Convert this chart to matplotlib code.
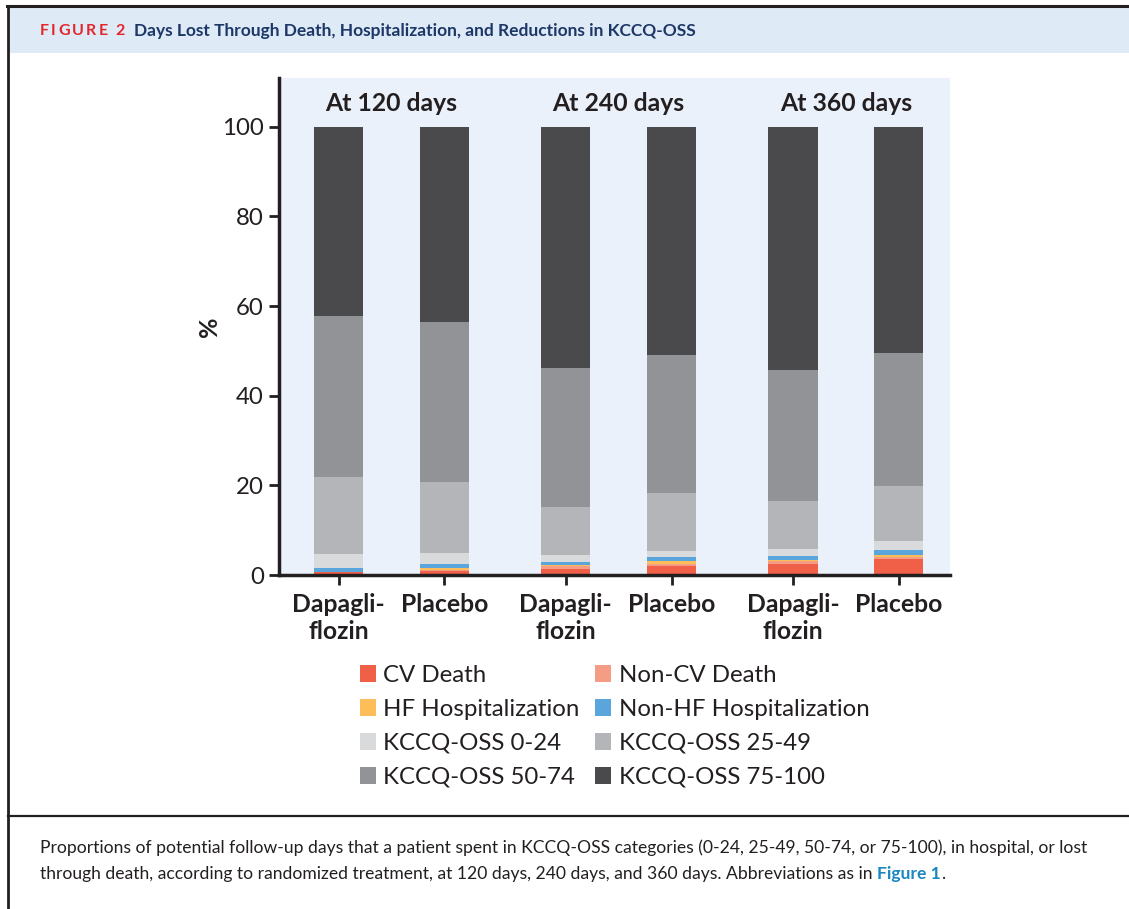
import matplotlib
matplotlib.use("Agg")
import matplotlib.pyplot as plt
from matplotlib.lines import Line2D
from matplotlib.patches import Rectangle
import numpy as np

# ---------------- data ----------------
timepoints = ["At 120 days", "At 240 days", "At 360 days"]
arms = ["Dapagli-\nflozin", "Placebo"]
# order of bars: Dapa120, Plac120, Dapa240, Plac240, Dapa360, Plac360
cv_death     = [0.6, 0.8, 1.45, 1.9, 2.5, 3.55]
noncv_death  = [0.0, 0.3, 0.45, 0.55, 0.65, 0.45]
hf_hosp      = [0.1, 0.5, 0.25, 0.6, 0.1, 0.4]
nonhf_hosp   = [0.8, 0.9, 0.75, 0.95, 0.95, 1.2]
kccq_0_24    = [3.2, 2.4, 1.6, 1.4, 1.6, 2.0]
kccq_25_49   = [17.2, 15.9, 10.7, 12.9, 10.7, 12.3]
kccq_50_74   = [35.9, 35.7, 31.0, 30.8, 29.3, 29.7]
kccq_75_100  = [42.2, 43.5, 53.8, 50.9, 54.2, 50.4]

series_names = ["CV Death", "Non-CV Death", "HF Hospitalization", "Non-HF Hospitalization",
                "KCCQ-OSS 0-24", "KCCQ-OSS 25-49", "KCCQ-OSS 50-74", "KCCQ-OSS 75-100"]
series_vals = [cv_death, noncv_death, hf_hosp, nonhf_hosp,
               kccq_0_24, kccq_25_49, kccq_50_74, kccq_75_100]
colors = ["#f05f48", "#f59c85", "#fdbd58", "#5aa5db",
          "#d9dadc", "#b4b5b8", "#929396", "#4a4a4c"]
yticks = [0, 20, 40, 60, 80, 100]

FONT = "Lato"
plt.rcParams["font.family"] = [FONT, "DejaVu Sans"]
TXT = "#231f20"

W, H = 1129, 909
fig = plt.figure(figsize=(W / 100, H / 100), dpi=100)

def fx(px):
    return px / W

def fy(py):
    return 1 - py / H

# ---------- frame / header ----------
fig.patches.append(Rectangle((fx(8), fy(53)), 1, fy(7) - fy(53), transform=fig.transFigure,
                             facecolor="#deeaf5", edgecolor="none", zorder=0))
fig.add_artist(Line2D([fx(7), 1], [fy(6), fy(6)], color="#231f20", lw=2.2))
fig.add_artist(Line2D([fx(8), fx(8)], [fy(6), 0], color="#231f20", lw=2.0))
fig.add_artist(Line2D([fx(8), 1], [fy(816), fy(816)], color="#231f20", lw=1.6))

fig.canvas.draw()
r = fig.canvas.get_renderer()

# letter-spaced "FIGURE 2"
xcur = 40.0
for ch in "FIGURE 2":
    t = fig.text(fx(xcur), fy(31), ch, color="#e3262e", fontsize=11.5, fontweight="bold",
                 va="center", ha="left")
    bb = t.get_window_extent(r)
    xcur += bb.width + 2.2
fig.text(fx(134), fy(31), "Days Lost Through Death, Hospitalization, and Reductions in KCCQ-OSS",
         color="#1d3768", fontsize=12.5, fontweight="bold", va="center", ha="left")

# ---------- axes ----------
ax = fig.add_axes([fx(279), fy(575), fx(950) - fx(279), fy(78) - fy(575)])
ax.set_facecolor("#eaf1fa")

group_gap = 2.146
n = len(cv_death)
xpos = np.array([g * group_gap + m for g in range(len(timepoints)) for m in range(len(arms))])
bar_w = 0.466

bottom = np.zeros(n)
handles = []
for name, vals, c in zip(series_names, series_vals, colors):
    b = ax.bar(xpos, vals, bar_w, bottom=bottom, color=c, label=name, linewidth=0, zorder=2)
    handles.append(b)
    bottom += np.array(vals)

ax.set_xlim(-0.563, 5.776)
ax.set_ylim(0, 110.9)
ax.set_yticks(yticks)
ax.set_yticklabels([str(v) for v in yticks], fontsize=17.3, color=TXT)
ax.set_xticks(xpos)
ax.set_xticklabels(arms * len(timepoints), fontsize=17.8, fontweight="bold", color=TXT,
                   linespacing=1.2)
ax.tick_params(axis="y", length=7, width=2, color=TXT, pad=4)
ax.tick_params(axis="x", length=7, width=2, color=TXT, pad=6)
for s in ["top", "right"]:
    ax.spines[s].set_visible(False)
for s in ["left", "bottom"]:
    ax.spines[s].set_linewidth(2.5)
    ax.spines[s].set_color(TXT)
ax.set_ylabel("%", fontsize=18, fontweight="bold", color=TXT, labelpad=1)

for g, t in enumerate(timepoints):
    ax.text(g * group_gap + 0.5, 105.1, t, ha="center", va="center", fontsize=17.8,
            fontweight="bold", color=TXT)

# ---------- legend ----------
order = [0, 2, 4, 6, 1, 3, 5, 7]
leg = fig.legend([handles[i] for i in order], [series_names[i] for i in order],
                 ncol=2, loc="upper left", bbox_to_anchor=(fx(360), fy(665)),
                 frameon=False, fontsize=17.3, handlelength=0.67, handleheight=0.67,
                 handletextpad=0.3, columnspacing=0.65, labelspacing=0.54, borderpad=0,
                 borderaxespad=0)
for t in leg.get_texts():
    t.set_color(TXT)

# ---------- caption ----------
cap1 = ("Proportions of potential follow-up days that a patient spent in KCCQ-OSS categories "
        "(0-24, 25-49, 50-74, or 75-100), in hospital, or lost")
cap2a = ("through death, according to randomized treatment, at 120 days, 240 days, and 360 days. "
         "Abbreviations as in ")
CFS = 12.6
fig.text(fx(40), fy(848), cap1, fontsize=CFS, color=TXT, va="center", ha="left")
c2 = fig.text(fx(40), fy(874), cap2a, fontsize=CFS, color=TXT, va="center", ha="left")
bb = c2.get_window_extent(r)
c3 = fig.text(bb.x1 / W, fy(874), "Figure 1", fontsize=CFS, color="#1a87c0",
              fontweight="bold", va="center", ha="left")
bb3 = c3.get_window_extent(r)
fig.text(bb3.x1 / W, fy(874), ".", fontsize=CFS, color=TXT, va="center", ha="left")

fig.savefig("out.png", dpi=100)
